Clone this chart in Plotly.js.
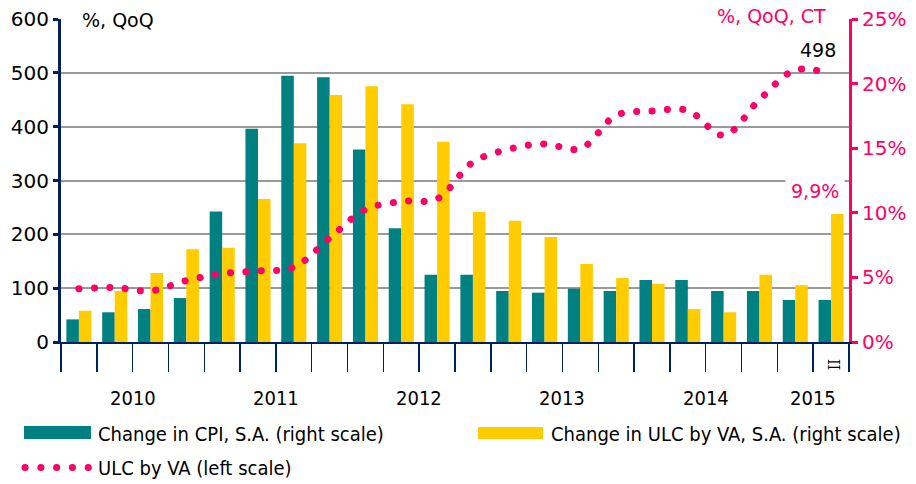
<!DOCTYPE html>
<html>
<head>
<meta charset="utf-8">
<script src="https://cdn.plot.ly/plotly-3.0.1.min.js"></script>
<style>
  html, body { margin: 0; padding: 0; background: #fff; }
  #chart { width: 916px; height: 484px; }
  .scatterlayer path.js-line { stroke-linecap: round !important; }
  .shapelayer path { stroke-linecap: round !important; }
</style>
</head>
<body>
<div id="chart"></div>
<script>
// ---- data ----
const quarters = ['2010 Q1','2010 Q2','2010 Q3','2010 Q4',
                  '2011 Q1','2011 Q2','2011 Q3','2011 Q4',
                  '2012 Q1','2012 Q2','2012 Q3','2012 Q4',
                  '2013 Q1','2013 Q2','2013 Q3','2013 Q4',
                  '2014 Q1','2014 Q2','2014 Q3','2014 Q4',
                  '2015 Q1','2015 Q2'];
const cpiChange = [1.75, 2.3, 2.55, 3.4, 10.1, 16.5, 20.6, 20.5, 14.9, 8.8, 5.2, 5.2,
                   3.95, 3.82, 4.13, 3.95, 4.8, 4.8, 3.95, 3.95, 3.25, 3.25];
const ulcChange = [2.42, 3.95, 5.34, 7.17, 7.3, 11.07, 15.38, 19.12, 19.8, 18.4, 15.5, 10.06,
                   9.39, 8.13, 6.04, 4.95, 4.51, 2.55, 2.3, 5.21, 4.39, 9.9];
const ulcLevel  = [99, 101, 95, 114, 127, 132, 139, 193, 246, 261, 266, 334,
                   358, 368, 359, 421, 429, 430, 384, 450, 505, 498];
const years = ['2010','2011','2012','2013','2014','2015'];
const quartersInYear = [4, 4, 4, 4, 4, 2];
const quarterLabels = ['', '', '', '', '', '', '', '', '', '', '', '',
                       '', '', '', '', '', '', '', '', '', 'II'];
const seriesNames = ['Change in CPI, S.A. (right scale)',
                     'Change in ULC by VA, S.A. (right scale)',
                     'ULC by VA (left scale)'];

// ---- derived ----
const TEAL = '#008080', YELLOW = '#FFCC00', PINK = '#FF0066', NAVY = '#002060';
const FONT = 'DejaVu Sans, Verdana, sans-serif';
const CFONT = 'DejaVu Sans Condensed, DejaVu Sans, sans-serif';
const xIdx = quarters.map((q, i) => i);
const qBounds = quarters.map((q, i) => i - 0.5).concat([quarters.length - 0.5]);
const yBounds = [-0.5];
const yCenters = [];
let acc = 0;
quartersInYear.forEach(n => { yCenters.push(acc + n / 2 - 0.5); acc += n; yBounds.push(acc - 0.5); });
const last = quarters.length - 1;

// plot geometry helpers (paper coords)
const L = 61, R = 849, T = 19, B = 342;
const px = v => (v - L) / (R - L);
const py = v => (B - v) / (B - T);

const traces = [
  { type: 'bar', x: xIdx, y: cpiChange, name: seriesNames[0], yaxis: 'y', xaxis: 'x',
    marker: { color: TEAL, line: { width: 0 } }, showlegend: false },
  { type: 'bar', x: xIdx, y: ulcChange, name: seriesNames[1], yaxis: 'y', xaxis: 'x',
    marker: { color: YELLOW, line: { width: 0 } }, showlegend: false },
  { type: 'scatter', mode: 'lines', x: xIdx, y: ulcLevel, name: seriesNames[2], yaxis: 'y2', xaxis: 'x',
    line: { color: PINK, width: 7, shape: 'spline', smoothing: 1, dash: '0.1px,15.3px' },
    showlegend: false }
];

const annotations = [];
annotations.push({ xref: 'paper', yref: 'paper', x: 0, y: 1, xanchor: 'left', yanchor: 'middle',
  xshift: 15, yshift: -1, text: '%, QoQ', showarrow: false, bgcolor: '#fff', borderpad: 5,
  font: { family: FONT, size: 19, color: '#000' } });
annotations.push({ xref: 'paper', yref: 'paper', x: 1, y: 1, xanchor: 'right', yanchor: 'middle',
  xshift: -17, yshift: 3, text: '%, QoQ, CT', showarrow: false, bgcolor: '#fff', borderpad: 5,
  font: { family: FONT, size: 19, color: PINK } });
annotations.push({ xref: 'x', yref: 'y2', x: last, y: ulcLevel[last], xanchor: 'center', yanchor: 'middle',
  xshift: -13, yshift: 24, text: String(ulcLevel[last]), showarrow: false,
  font: { family: FONT, size: 19, color: '#000' } });
annotations.push({ xref: 'x', yref: 'y', x: last, y: ulcChange[last], xanchor: 'center', yanchor: 'middle',
  xshift: -16, yshift: 23, text: String(ulcChange[last]).replace('.', ',') + '%', showarrow: false,
  bgcolor: '#fff', borderpad: 5, font: { family: FONT, size: 19, color: PINK } });
years.forEach((yr, i) => annotations.push({ xref: 'x', yref: 'paper', x: yCenters[i], y: 0,
  xanchor: 'center', yanchor: 'middle', yshift: -56, text: yr, showarrow: false,
  font: { family: CFONT, size: 20, color: '#000' } }));
quarterLabels.forEach((ql, i) => { if (ql) annotations.push({ xref: 'x', yref: 'paper', x: i, y: 0,
  xanchor: 'center', yanchor: 'middle', xshift: 3, yshift: -22, text: ql, textangle: 90, showarrow: false,
  font: { family: 'DejaVu Serif Condensed, DejaVu Serif, serif', size: 16, color: '#000' } }); });
// legend texts
annotations.push({ xref: 'paper', yref: 'paper', x: px(96), y: py(434), xanchor: 'left', yanchor: 'middle',
  text: seriesNames[0], showarrow: false, font: { family: CFONT, size: 20, color: '#000' } });
annotations.push({ xref: 'paper', yref: 'paper', x: px(549), y: py(434), xanchor: 'left', yanchor: 'middle',
  text: seriesNames[1], showarrow: false, font: { family: CFONT, size: 20, color: '#000' } });
annotations.push({ xref: 'paper', yref: 'paper', x: px(96), y: py(468), xanchor: 'left', yanchor: 'middle',
  text: seriesNames[2], showarrow: false, font: { family: CFONT, size: 20, color: '#000' } });

const shapes = [
  { type: 'rect', xref: 'paper', yref: 'paper', x0: px(24), x1: px(91), y0: py(426), y1: py(439),
    fillcolor: TEAL, line: { width: 0 } },
  { type: 'rect', xref: 'paper', yref: 'paper', x0: px(478), x1: px(543), y0: py(427), y1: py(439),
    fillcolor: YELLOW, line: { width: 0 } },
  { type: 'line', xref: 'paper', yref: 'paper', x0: px(25), x1: px(89), y0: py(467.5), y1: py(467.5),
    line: { color: PINK, width: 7, dash: '0.1px,15.7px' } }
];

const layout = {
  width: 916, height: 484,
  margin: { l: L, r: 916 - R, t: T, b: 484 - B },
  paper_bgcolor: '#fff', plot_bgcolor: 'rgba(0,0,0,0)',
  showlegend: false,
  barmode: 'group', bargap: 0.3, bargroupgap: 0,
  font: { family: FONT, size: 19, color: '#000' },
  xaxis: { range: [-0.5, quarters.length - 0.5], tickmode: 'array', tickvals: qBounds,
    ticks: 'outside', ticklen: 28, tickwidth: 1.5, tickcolor: NAVY, showticklabels: false,
    showline: true, linecolor: NAVY, linewidth: 2, showgrid: false, zeroline: false, fixedrange: true },
  xaxis2: { overlaying: 'x', anchor: 'y', range: [-0.5, quarters.length - 0.5], tickmode: 'array',
    tickvals: yBounds, ticks: 'outside', ticklen: 66, tickwidth: 1.5, tickcolor: NAVY,
    showticklabels: false, showline: false, showgrid: false, zeroline: false },
  yaxis: { side: 'right', range: [0, 25], dtick: 5, ticksuffix: '%', showgrid: false, zeroline: false,
    showline: true, linecolor: PINK, linewidth: 3, ticks: 'outside', ticklen: 6, tickwidth: 3,
    tickcolor: PINK, tickfont: { family: FONT, size: 20, color: PINK }, anchor: 'x' },
  yaxis2: { overlaying: 'y', side: 'left', anchor: 'x', range: [0, 600], dtick: 100, showgrid: true,
    gridcolor: '#9a9a9a', gridwidth: 2, zeroline: false, showline: true, linecolor: NAVY, linewidth: 3,
    ticks: 'outside', ticklen: 5, tickwidth: 3, tickcolor: NAVY,
    tickfont: { family: FONT, size: 20, color: '#000' } },
  annotations: annotations,
  shapes: shapes
};

Plotly.newPlot('chart', traces, layout, { staticPlot: true, displayModeBar: false });
</script>
</body>
</html>
